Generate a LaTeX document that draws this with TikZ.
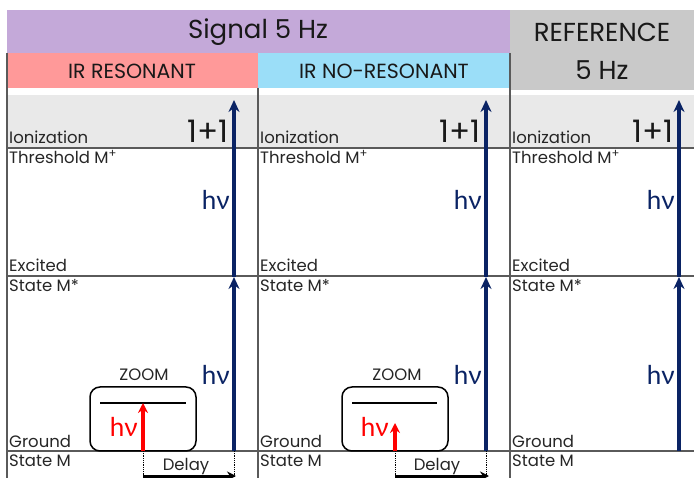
\documentclass[tikz,border=0pt]{standalone}
\usepackage{fontspec}
\setmainfont{Poppins}
\newfontfamily\greekfont{Lato}
\usepackage{xcolor}
\usepackage{tikz}
\usetikzlibrary{positioning,arrows.meta}

\definecolor{sigpurple}{RGB}{196,169,217}
\definecolor{irred}{RGB}{255,153,153}
\definecolor{irblue}{RGB}{155,222,248}
\definecolor{refgrey}{RGB}{201,201,201}
\definecolor{bandgrey}{RGB}{233,233,233}
\definecolor{photon}{RGB}{10,35,100}
\definecolor{rule}{RGB}{90,90,90}

\begin{document}
\begin{tikzpicture}[x=1pt, y=-1pt,
    lvl/.style={anchor=base west, inner sep=0pt, font=\fontsize{16.5}{16.5}\selectfont, text=black!85},
    head/.style={inner sep=0pt, font=\fontsize{26}{26}\selectfont, text=black!90},
    subhead/.style={inner sep=0pt, font=\fontsize{20.5}{20.5}\selectfont, text=black!90},
    big/.style={anchor=base east, inner sep=0pt, font=\fontsize{31}{31}\selectfont, text=black!90},
    hv/.style={anchor=base east, inner sep=0pt, font=\greekfont\fontsize{26}{26}\selectfont},
    small/.style={anchor=base, inner sep=0pt, font=\fontsize{16.5}{16.5}\selectfont, text=black!85},
    pump/.style={line width=4pt, photon, -{Stealth[length=12pt,width=11pt]}},
    probe/.style={line width=3.5pt, red, -{Stealth[length=10pt,width=10pt]}},
    zoombox/.style={draw, line width=1.5pt, rounded corners=10pt},
    level/.style={line width=1.3pt, rule},
    delay/.style={line width=3pt, -{Stealth[length=9pt,width=9pt]}},
  ]
  \useasboundingbox (0,0) rectangle (694,478);

  % headers
  \fill[sigpurple] (7,10) rectangle (510,53);
  \fill[irred] (7,53) rectangle (258,88);
  \fill[irblue] (258,53) rectangle (510,88);
  \fill[refgrey] (510,10) rectangle (694,90);
  \fill[bandgrey] (7,95) rectangle (694,148);
  \node[head] (sig) at (258,32) {Signal 5 Hz};
  \node[subhead] (res) at (132,71) {IR RESONANT};
  \node[subhead] (nores) at (384,71) {IR NO-RESONANT};
  \node[head] (ref) at (602,32) {REFERENCE};
  \node[head] (refhz) at (602,70) {5 Hz};

  % grid
  \draw[level] (7,148) -- (694,148);
  \draw[level] (7,276) -- (694,276);
  \draw[level] (7,451) -- (694,451);
  \draw[level] (7,53) -- (7,478);
  \draw[level] (258,88) -- (258,478);
  \draw[level] (510,53) -- (510,478);

  % energy levels and 1+1 photons
  \foreach \i/\lx/\ax in {1/7/234, 2/258/486, 3/510/679} {
    \node[lvl] (ion\i) at (\lx+2,144) {Ionization};
    \node[lvl] (thr\i) at (\lx+2,164) {Threshold M\textsuperscript{+}};
    \node[lvl] (exc\i) at (\lx+2,272) {Excited};
    \node[lvl] (stx\i) at (\lx+2,292) {State M*};
    \node[lvl] (gnd\i) at (\lx+2,447) {Ground};
    \node[lvl] (stg\i) at (\lx+2,467) {State M};
    \coordinate (lo\i) at (\ax,451);
    \coordinate (mid\i) at (\ax,277);
    \coordinate (top\i) at (\ax,100);
    \draw[pump] (lo\i) -- (mid\i);
    \draw[pump] (mid\i) -- (top\i);
    \node[big] (oneone\i) at (\ax-5,143) {1+1};
    \node[hv, text=photon] (hvup\i) at (\ax-4,210) {hν};
    \node[hv, text=photon] (hvlo\i) at (\ax-4,385) {hν};
  }

  % zoom boxes with IR photon
  \draw[zoombox] (90,387) rectangle (196,451);
  \draw[line width=1.3pt] (100,403) -- (186,403);
  \node[small] (zoomA) at (144,381) {ZOOM};
  \coordinate (irA) at (143,451);
  \coordinate (irAtop) at (143,403);
  \draw[probe] (irA) -- (irAtop);
  \node[hv, text=red] (hvirA) at (138,437) {hν};

  \draw[zoombox] (342,387) rectangle (448,451);
  \draw[line width=1.3pt] (352,403) -- (437,403);
  \node[small] (zoomB) at (397,381) {ZOOM};
  \coordinate (irB) at (395,451);
  \coordinate (irBtop) at (395,423);
  \draw[probe] (irB) -- (irBtop);
  \node[hv, text=red] (hvirB) at (389,437) {hν};

  % delay between IR and UV
  \coordinate (dA1) at (143,476);
  \coordinate (dA2) at (236,476);
  \draw[densely dotted, line width=0.8pt] (irA) -- (143,478);
  \draw[densely dotted, line width=0.8pt] (lo1) -- (234,478);
  \node[small] (delayA) at (186,470) {Delay};
  \draw[delay] (dA1) -- (dA2);

  \coordinate (dB1) at (395,476);
  \coordinate (dB2) at (489,476);
  \draw[densely dotted, line width=0.8pt] (irB) -- (395,478);
  \draw[densely dotted, line width=0.8pt] (lo2) -- (486,478);
  \node[small] (delayB) at (437,470) {Delay};
  \draw[delay] (dB1) -- (dB2);
\end{tikzpicture}
\end{document}
